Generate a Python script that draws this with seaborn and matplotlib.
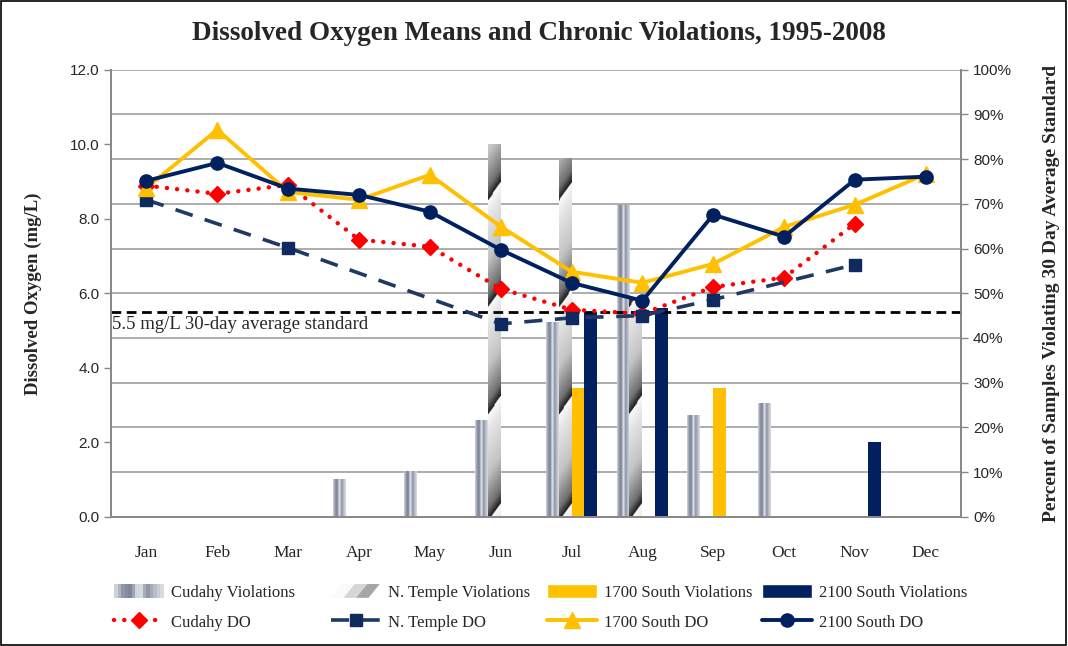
import numpy as np
import pandas as pd
import matplotlib
matplotlib.use('Agg')
import matplotlib.pyplot as plt
import seaborn as sns
from matplotlib.colors import LinearSegmentedColormap
from matplotlib.patches import Patch, Polygon, Rectangle
from matplotlib.legend_handler import HandlerBase
from matplotlib.ticker import FixedLocator, FormatStrFormatter

months = ['Jan', 'Feb', 'Mar', 'Apr', 'May', 'Jun', 'Jul', 'Aug', 'Sep', 'Oct', 'Nov', 'Dec']

# percent of samples violating the 30 day standard (right axis)
cudahy_viol = [0, 0, 0, 8.5, 10.1, 21.5, 43.4, 69.6, 22.6, 25.3, 0, 0]
ntemple_viol = [0, 0, 0, 0, 0, 83.4, 80.3, 48.8, 0, 0, 0, 0]
s1700_viol = [0, 0, 0, 0, 0, 0, 28.8, 0, 28.8, 0, 0, 0]
s2100_viol = [0, 0, 0, 0, 0, 0, 45.9, 46.8, 0, 0, 16.8, 0]

# mean dissolved oxygen, mg/L (left axis)
cudahy_do = [8.89, 8.67, 8.91, 7.44, 7.25, 6.12, 5.56, 5.45, 6.17, 6.42, 7.87, np.nan]
ntemple_do = [8.51, np.nan, 7.22, np.nan, np.nan, 5.18, 5.34, 5.40, 5.83, np.nan, 6.77, np.nan]
s1700_do = [8.83, 10.39, 8.72, 8.51, 9.18, 7.79, 6.58, 6.28, 6.79, 7.78, 8.38, 9.2]
s2100_do = [9.02, 9.50, 8.81, 8.64, 8.19, 7.17, 6.28, 5.80, 8.11, 7.52, 9.05, 9.13]

standard = 5.5

viol_names = ['Cudahy Violations', 'N. Temple Violations', '1700 South Violations', '2100 South Violations']
NAVY = '#002060'
GOLD = '#FFC000'

cudahy_cmap = LinearSegmentedColormap.from_list(
    'cudahy', ['#cfd1d7', '#8c92a4', '#7c8398', '#eceef1', '#8990a3', '#b6bac5', '#dadbe0'])
temple_cmap = LinearSegmentedColormap.from_list(
    'temple', [(0, '#1c1c1c'), (0.12, '#707070'), (0.45, '#c4c4c4'), (0.85, '#e6e6e6'), (1, '#fafafa')])


def cudahy_img(h):
    return np.linspace(0, 1, 24)[None, :]


def temple_img(h, period=24.0, slope=4.0, phase=71.0):
    y = np.linspace(0, h, max(int(h * 4), 2))[:, None]
    xf = np.linspace(0, 1, 16)[None, :]
    return ((y - phase - xf * slope) / period) % 1.0


def gradient_bars(ax, bars, make_img, cmap):
    for bar in bars:
        h = bar.get_height()
        if not h:
            continue
        x0, w = bar.get_x(), bar.get_width()
        bar.set_facecolor('none')
        ax.imshow(make_img(h), extent=[x0, x0 + w, 0, h], aspect='auto', cmap=cmap,
                  origin='lower', interpolation='bilinear', vmin=0, vmax=1, zorder=1.5)


class StripeHandler(HandlerBase):
    def __init__(self, cmap, n, slant):
        super().__init__()
        self.cmap, self.n, self.slant = cmap, n, slant

    def create_artists(self, legend, orig_handle, xdescent, ydescent, width, height, fontsize, trans):
        arts = []
        x0, y0 = -xdescent, -ydescent
        w = width / self.n
        for i in range(self.n):
            c = self.cmap(i / (self.n - 1))
            xl = x0 + i * w
            if self.slant:
                if xl + w * 1.9 > x0 + width:
                    continue
                pts = [(xl, y0), (xl + w, y0), (xl + w + w * 0.9, y0 + height), (xl + w * 0.9, y0 + height)]
                arts.append(Polygon(pts, closed=True, facecolor=c, edgecolor='none', transform=trans))
            else:
                arts.append(Rectangle((xl, y0), w * 1.02, height, facecolor=c, edgecolor='none', transform=trans))
        return arts


sns.set_style('white')
plt.rcParams['font.family'] = ['Liberation Serif', 'DejaVu Serif']

fig, ax = plt.subplots(figsize=(10.68, 6.46), dpi=100)
fig.subplots_adjust(left=0.104, right=0.900, top=0.892, bottom=0.200)
ax2 = ax.twinx()

viol_df = pd.DataFrame({
    'month': months * 4,
    'site': np.repeat(viol_names, len(months)),
    'pct': cudahy_viol + ntemple_viol + s1700_viol + s2100_viol,
})
sns.barplot(data=viol_df, x='month', y='pct', hue='site', order=months, hue_order=viol_names,
            palette=['#b0b4c0', '#999999', GOLD, NAVY], width=0.73, saturation=1,
            errorbar=None, linewidth=0, legend=False, ax=ax2)
gradient_bars(ax2, ax2.containers[0], cudahy_img, cudahy_cmap)
gradient_bars(ax2, ax2.containers[1], temple_img, temple_cmap)

# lines go on the left axis, drawn above the bars
ax.set_zorder(ax2.get_zorder() + 1)
ax.patch.set_visible(False)
xpos = np.arange(len(months))


def plot_do(vals, **kw):
    s = pd.Series(vals, index=xpos).dropna()
    return ax.plot(s.index, s.values, **kw)[0]


l_cud = plot_do(cudahy_do, color='#FF0000', lw=3.2, linestyle=(0, (0.01, 2.3)),
                dash_capstyle='round', marker='D', ms=8.5, label='Cudahy DO')
l_nt = plot_do(ntemple_do, color='#1F3864', lw=2.6, linestyle=(0, (5, 3.5)),
               marker='s', ms=9, mfc='#0E2A5E', mec='#0E2A5E', label='N. Temple DO')
l_17 = plot_do(s1700_do, color=GOLD, lw=2.8, marker='^', ms=11, label='1700 South DO')
l_21 = plot_do(s2100_do, color=NAVY, lw=2.8, marker='o', ms=9.5, label='2100 South DO')

ax.axhline(standard, color='black', lw=2, linestyle=(0, (3.5, 2)), zorder=1)
ax.text(-0.48, standard - 0.12, '5.5 mg/L 30-day average standard', va='top', ha='left', fontsize=13.5)

# axes, ticks, grid
ax.set_xlim(-0.5, 11.5)
ax.set_ylim(0, 12)
ax2.set_ylim(0, 100)
ax.set_yticks(np.arange(0, 12.1, 2))
ax.yaxis.set_major_formatter(FormatStrFormatter('%.1f'))
ax2.set_yticks(np.arange(0, 101, 10))
ax2.yaxis.set_major_formatter(FormatStrFormatter('%d%%'))
ax.set_xticks(xpos)
ax.set_xticklabels(months, fontsize=12.5)
ax.xaxis.set_minor_locator(FixedLocator(np.arange(-0.5, 12, 1)))
ax.tick_params(axis='x', which='major', length=0, pad=20)
ax.tick_params(axis='x', which='minor', length=5, color='#888888', direction='out')
ax.tick_params(axis='y', length=5, color='#888888', direction='out', width=1)
ax2.tick_params(axis='y', length=5, color='#888888', direction='out', width=1)
for lab in ax.get_yticklabels() + ax2.get_yticklabels():
    lab.set_family('Liberation Sans')
    lab.set_fontsize(11)
ax2.grid(axis='y', color='#a6a6a6', lw=1.3)
ax2.set_axisbelow(True)
ax.grid(False)
ax2.set_xlabel('')
ax.set_xlabel('')
for a in (ax, ax2):
    for side in ('left', 'bottom', 'right'):
        a.spines[side].set_color('#888888')
        a.spines[side].set_linewidth(1.3)
    a.spines['top'].set_visible(False)

ax.set_ylabel('Dissolved Oxygen (mg/L)', fontsize=13.5, fontweight='bold')
ax.yaxis.set_label_coords(-0.081, 0.5)
ax2.set_ylabel('Percent of Samples Violating 30 Day Average Standard', fontsize=14, fontweight='bold')
ax2.yaxis.set_label_coords(1.096, 0.5)

fig.text(0.505, 0.948, 'Dissolved Oxygen Means and Chronic Violations, 1995-2008',
         ha='center', va='center', fontsize=19.5, fontweight='bold')

# legend: one column per site, bars on the first row, lines on the second
h_cud = Patch(label=viol_names[0])
h_nt = Patch(label=viol_names[1])
h_17 = Patch(facecolor=GOLD, label=viol_names[2])
h_21 = Patch(facecolor=NAVY, label=viol_names[3])
columns = [(h_cud, l_cud), (h_nt, l_nt), (h_17, l_17), (h_21, l_21)]
col_x = [114, 331, 547, 762]
hmap = {h_cud: StripeHandler(cudahy_cmap, 14, False),
        h_nt: StripeHandler(temple_cmap.reversed(), 4, True)}
for x, pair in zip(col_x, columns):
    leg = fig.legend(list(pair), [h.get_label() for h in pair], loc='upper left',
                     bbox_to_anchor=(x / 1068, 1 - 584 / 646), frameon=False, fontsize=12,
                     handlelength=3.0, handleheight=0.9, handletextpad=0.4,
                     labelspacing=0.8, numpoints=1, borderpad=0, borderaxespad=0,
                     handler_map=hmap)

fig.patches.append(Rectangle((0.001, 0.002), 0.997, 0.996, transform=fig.transFigure,
                             fill=False, edgecolor='black', lw=1.2))
fig.savefig('out.png', dpi=100)
